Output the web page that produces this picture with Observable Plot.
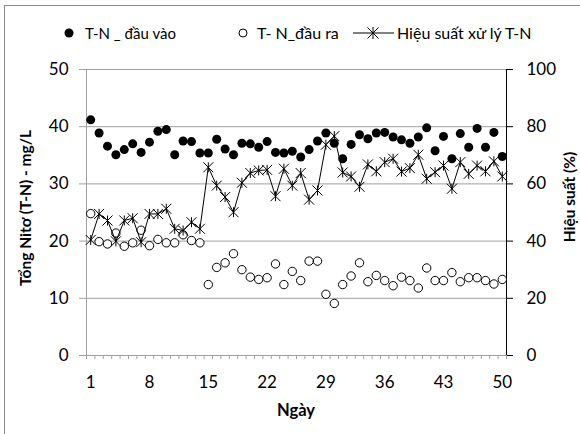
<!DOCTYPE html>
<html><head><meta charset="utf-8">
<script src="https://cdn.jsdelivr.net/npm/d3@7"></script>
<script src="https://cdn.jsdelivr.net/npm/@observablehq/plot@0.6"></script>
<style>
body{margin:0;background:#fff;font-family:Lato,"Open Sans",sans-serif;color:#000;}
#wrap{position:relative;width:580px;height:434px;overflow:hidden;}
#frame{position:absolute;left:4px;top:5px;width:600px;height:460px;border:1px solid #8c8c8c;box-sizing:border-box;}
#chart{position:absolute;left:0;top:0;}
.lg{position:absolute;font-size:16px;line-height:20px;white-space:nowrap;}
.ttl{position:absolute;font-weight:bold;font-size:15.5px;white-space:nowrap;transform-origin:center center;}
</style></head>
<body>
<div id="wrap">
  <div id="frame"></div>
  <div id="chart"></div>
  <svg class="lg" style="left:61px;top:25px" width="16" height="16"><circle cx="8" cy="8" r="4.5" fill="#000"/></svg>
  <div class="lg" style="left:85px;top:23px;font-size:15px">T-N _ đầu vào</div>
  <svg class="lg" style="left:235px;top:25px" width="16" height="16"><circle cx="8" cy="8" r="4" fill="#fff" stroke="#000"/></svg>
  <div class="lg" style="left:257px;top:23px">T- N_đầu ra</div>
  <svg class="lg" style="left:352px;top:25px" width="44" height="16"><line x1="1" y1="8" x2="42" y2="8" stroke="#000"/><path d="M15.5,2.5L26.5,13.5M15.5,13.5L26.5,2.5M21,2L21,14" stroke="#000" fill="none"/></svg>
  <div class="lg" style="left:397px;top:23px">Hiệu suất xử lý T-N</div>
  <div class="ttl" id="ytl">Tổng  Nitơ (T-N) - mg/L</div>
  <div class="ttl" id="ytr">Hiệu suất (%)</div>
  <div class="ttl" id="xt" style="font-size:16.5px">Ngày</div>
</div>
<script>
const days = [1,2,3,4,5,6,7,8,9,10,11,12,13,14,15,16,17,18,19,20,21,22,23,24,25,26,27,28,29,30,31,32,33,34,35,36,37,38,39,40,41,42,43,44,45,46,47,48,49,50];
const tnIn = [41.2,38.9,36.6,35.1,36.0,37.0,35.5,37.3,39.2,39.5,35.1,37.5,37.4,35.4,35.4,37.8,36.1,35.1,37.1,37.0,36.4,37.4,35.5,35.4,35.7,34.7,36.0,37.5,38.9,37.1,34.4,36.9,38.6,37.9,38.9,39.0,38.2,37.7,37.1,38.2,39.8,35.8,38.3,34.4,38.8,36.4,39.7,36.4,39.0,34.8];
const tnOut = [24.8,19.9,19.5,21.4,19.1,19.7,21.9,19.2,20.3,19.7,19.7,21.1,20.1,19.7,12.4,15.4,16.2,17.8,15.0,13.7,13.3,13.6,16.0,12.4,14.7,13.1,16.5,16.5,10.7,9.1,12.4,13.9,16.2,12.9,14.0,13.1,12.2,13.7,13.1,11.8,15.3,13.1,13.1,14.5,12.9,13.6,13.6,13.1,12.5,13.3];
const eff = [40.4,49.5,47.2,39.9,47.2,48.0,39.6,49.5,49.5,51.3,44.3,43.7,46.6,44.3,65.8,59.4,55.4,50.1,60.4,63.8,64.7,64.9,55.7,65.3,59.4,63.8,54.5,57.7,73.7,76.7,64.0,62.6,59.0,66.8,64.4,67.6,68.8,64.3,65.5,70.2,61.8,64.1,66.4,58.3,67.6,63.5,66.4,64.4,67.9,62.6];
const xTickLabels = [1,8,15,22,29,36,43,50];
const leftTicks = [0,10,20,30,40,50];
const rightTicks = [0,20,40,60,80,100];

const data = days.map((d,i)=>({day:d, tin:tnIn[i], tout:tnOut[i], eff:eff[i]}));
const minor = days.map(d=>d-0.5).concat([days[days.length-1]+0.5]);
const star = {draw(ctx,size){const h=Math.sqrt(size/Math.PI);ctx.moveTo(-h,-h);ctx.lineTo(h,h);ctx.moveTo(-h,h);ctx.lineTo(h,-h);ctx.moveTo(0,-h);ctx.lineTo(0,h);}};
const grey = "#a0a0a0";
const font = "Lato, 'Open Sans', sans-serif";

const chart = Plot.plot({
  width:580, height:434,
  marginLeft:86, marginRight:74, marginTop:69, marginBottom:79,
  style:{fontFamily:font, fontSize:"17px", background:"transparent", color:"#000"},
  x:{type:"linear", domain:[0.5,50.5]},
  y:{domain:[0,50]},
  marks:[
    Plot.gridY([10,20,30,40,50], {stroke:grey, strokeOpacity:1}),
    Plot.axisY(leftTicks, {anchor:"left", tickSize:7, tickPadding:11, stroke:grey, strokeOpacity:1, label:null, fontSize:17}),
    Plot.axisY(rightTicks.map(v=>v/2), {anchor:"right", tickSize:6, tickPadding:14, stroke:"#000", tickFormat:d=>String(d*2), label:null, fontSize:17}),
    Plot.axisX(minor, {anchor:"bottom", tickSize:4, stroke:grey, strokeOpacity:1, tickFormat:()=>"", label:null}),
    Plot.axisX(xTickLabels, {anchor:"bottom", tickSize:0, tickPadding:20, label:null, fontSize:17}),
    Plot.ruleX([0.5], {stroke:grey}),
    Plot.ruleY([0], {stroke:grey}),
    Plot.ruleX([50.5], {stroke:"#000"}),
    Plot.dot(data, {x:"day", y:"tin", r:4.5, fill:"#000", stroke:null}),
    Plot.dot(data, {x:"day", y:"tout", r:4.2, fill:"#fff", stroke:"#000", strokeWidth:1}),
    Plot.line(data, {x:"day", y:d=>d.eff/2, stroke:"#000", strokeWidth:1}),
    Plot.dot(data, {x:"day", y:d=>d.eff/2, r:5, symbol:star, fill:"none", stroke:"#000", strokeWidth:1})
  ]
});
document.getElementById("chart").appendChild(chart);

function place(id, cx, cy, rot){
  const el = document.getElementById(id);
  const w = el.offsetWidth, h = el.offsetHeight;
  el.style.left = (cx - w/2) + "px";
  el.style.top = (cy - h/2) + "px";
  if (rot) el.style.transform = "rotate(-90deg)";
}
place("ytl", 25, 208, true);
place("ytr", 569, 197, true);
place("xt", 296, 410, false);
</script>
</body></html>
